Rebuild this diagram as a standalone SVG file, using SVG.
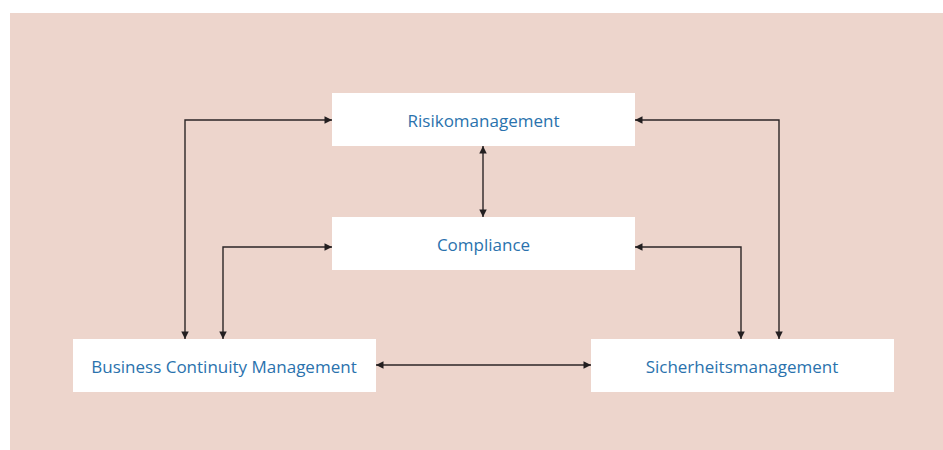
<svg xmlns="http://www.w3.org/2000/svg" width="943" height="450" viewBox="0 0 943 450">
<defs>
<style>
.box{fill:#ffffff}
.lbl{font-family:"Open Sans","Noto Sans",sans-serif;font-size:17px;fill:#2a72ad;text-anchor:middle;dominant-baseline:central}
.ln{fill:none;stroke:#2b2526;stroke-width:1.4}
</style>
<marker id="ah" viewBox="0 0 10 10" refX="10" refY="5" markerWidth="12" markerHeight="7.5" markerUnits="userSpaceOnUse" orient="auto-start-reverse">
<path d="M0,0 L10,5 L0,10 z" fill="#231f20"/>
</marker>
</defs>
<rect x="10" y="13" width="933" height="437" fill="#edd5cc"/>
<g id="connectors">
<polyline class="ln" points="185,339 185,120 332,120" marker-start="url(#ah)" marker-end="url(#ah)"/>
<polyline class="ln" points="223,339 223,247 332,247" marker-start="url(#ah)" marker-end="url(#ah)"/>
<polyline class="ln" points="635,120 779,120 779,339" marker-start="url(#ah)" marker-end="url(#ah)"/>
<polyline class="ln" points="635,247 741,247 741,339" marker-start="url(#ah)" marker-end="url(#ah)"/>
<line class="ln" x1="483" y1="146" x2="483" y2="217" marker-start="url(#ah)" marker-end="url(#ah)"/>
<line class="ln" x1="376" y1="365" x2="591" y2="365" marker-start="url(#ah)" marker-end="url(#ah)"/>
</g>
<g id="risikomanagement">
<rect class="box" x="332" y="93" width="303" height="53"/>
<text class="lbl" x="483.5" y="120">Risikomanagement</text>
</g>
<g id="compliance">
<rect class="box" x="332" y="217" width="303" height="53"/>
<text class="lbl" x="483.5" y="244">Compliance</text>
</g>
<g id="bcm">
<rect class="box" x="73" y="339" width="303" height="53"/>
<text class="lbl" x="224" y="366">Business Continuity Management</text>
</g>
<g id="sicherheitsmanagement">
<rect class="box" x="591" y="339" width="303" height="53"/>
<text class="lbl" x="742" y="366">Sicherheitsmanagement</text>
</g>
</svg>
